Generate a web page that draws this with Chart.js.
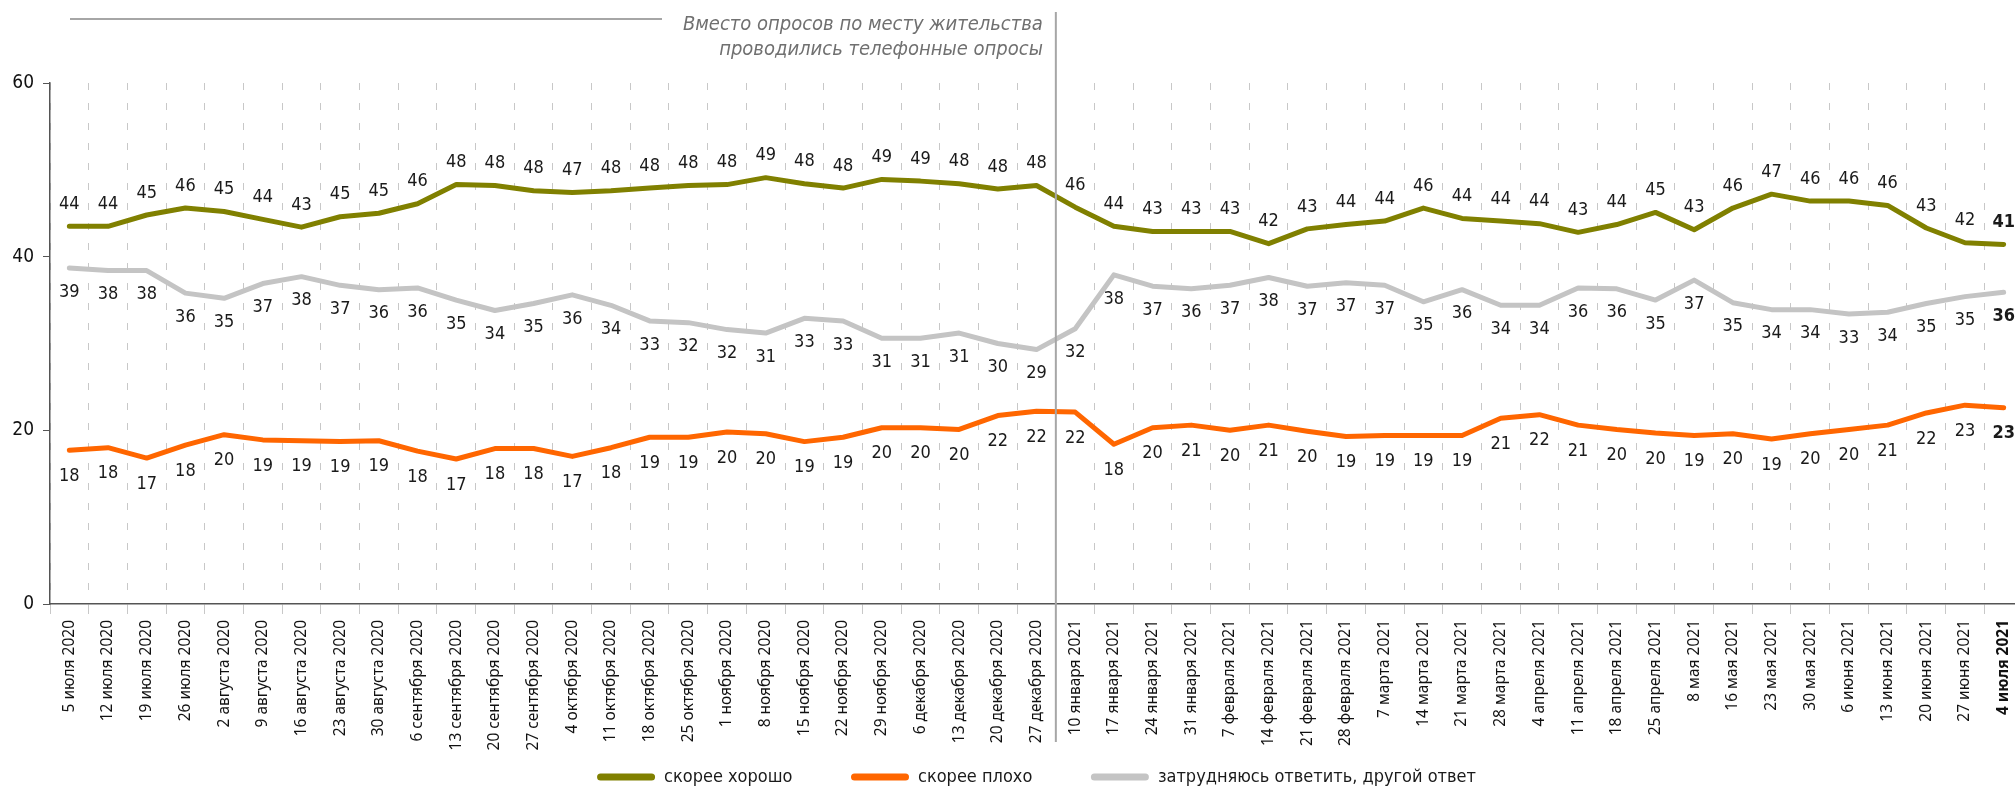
<!DOCTYPE html>
<html>
<head>
<meta charset="utf-8">
<script src="https://cdn.jsdelivr.net/npm/chart.js@4.4.1/dist/chart.umd.min.js"></script>
<style>
  html, body { margin: 0; padding: 0; background: #fff; overflow: hidden; }
  #wrap { width: 2045px; height: 792px; }
</style>
</head>
<body>
<div id="wrap"><canvas id="lineChart" width="2045" height="792"></canvas></div>
<script>
const dates = [
  "5 июля 2020", "12 июля 2020", "19 июля 2020", "26 июля 2020",
  "2 августа 2020", "9 августа 2020", "16 августа 2020", "23 августа 2020", "30 августа 2020",
  "6 сентября 2020", "13 сентября 2020", "20 сентября 2020", "27 сентября 2020",
  "4 октября 2020", "11 октября 2020", "18 октября 2020", "25 октября 2020",
  "1 ноября 2020", "8 ноября 2020", "15 ноября 2020", "22 ноября 2020", "29 ноября 2020",
  "6 декабря 2020", "13 декабря 2020", "20 декабря 2020", "27 декабря 2020",
  "10 января 2021", "17 января 2021", "24 января 2021", "31 января 2021",
  "7 февраля 2021", "14 февраля 2021", "21 февраля 2021", "28 февраля 2021",
  "7 марта 2021", "14 марта 2021", "21 марта 2021", "28 марта 2021",
  "4 апреля 2021", "11 апреля 2021", "18 апреля 2021", "25 апреля 2021",
  "8 мая 2021", "16 мая 2021", "23 мая 2021", "30 мая 2021",
  "6 июня 2021", "13 июня 2021", "20 июня 2021", "27 июня 2021",
  "4 июля 2021"
];

// скорее хорошо
const good = [
  43.5, 43.5, 44.8, 45.6, 45.2, 44.3, 43.4, 44.6, 45.0, 46.1, 48.3, 48.2, 47.6,
  47.4, 47.6, 47.9, 48.2, 48.3, 49.1, 48.4, 47.9, 48.9, 48.7, 48.4, 47.8, 48.2,
  45.7, 43.5, 42.9, 42.9, 42.9, 41.5, 43.2, 43.7, 44.1, 45.6, 44.4, 44.1, 43.8,
  42.8, 43.7, 45.1, 43.1, 45.6, 47.2, 46.4, 46.4, 45.9, 43.3, 41.6, 41.4
];

// скорее плохо
const bad = [
  17.7, 18.0, 16.8, 18.3, 19.5, 18.9, 18.8, 18.7, 18.8, 17.6, 16.7, 17.9, 17.9,
  17.0, 18.0, 19.2, 19.2, 19.8, 19.6, 18.7, 19.2, 20.3, 20.3, 20.1, 21.7, 22.2,
  22.1, 18.4, 20.3, 20.6, 20.0, 20.6, 19.9, 19.3, 19.4, 19.4, 19.4, 21.4, 21.8,
  20.6, 20.1, 19.7, 19.4, 19.6, 19.0, 19.6, 20.1, 20.6, 22.0, 22.9, 22.6
];

// затрудняюсь ответить, другой ответ
const hard = [
  38.7, 38.4, 38.4, 35.8, 35.2, 36.9, 37.7, 36.7, 36.2, 36.4, 35.0, 33.8, 34.6,
  35.6, 34.4, 32.6, 32.4, 31.6, 31.2, 32.9, 32.6, 30.6, 30.6, 31.2, 30.0, 29.3,
  31.7, 37.9, 36.6, 36.3, 36.7, 37.6, 36.6, 37.0, 36.7, 34.8, 36.2, 34.4, 34.4,
  36.4, 36.3, 35.0, 37.3, 34.7, 33.9, 33.9, 33.4, 33.6, 34.6, 35.4, 35.9
];

const yTicks = [0, 20, 40, 60];
const noteLines = ["Вместо опросов по месту жительства", "проводились телефонные опросы"];
const lastPre2021 = 25;

const NARROW = "'Liberation Sans Narrow', 'DejaVu Sans Condensed', sans-serif";

const pointLabels = {
  id: "pointLabels",
  afterDatasetsDraw(chart) {
    const ctx = chart.ctx;
    ctx.save();
    ctx.textAlign = "center";
    ctx.textBaseline = "middle";
    ctx.fillStyle = "#1a1a1a";
    chart.data.datasets.forEach((ds, i) => {
      const meta = chart.getDatasetMeta(i);
      meta.data.forEach((pt, j) => {
        const last = j === ds.data.length - 1;
        ctx.font = (last ? "bold " : "") + "18px " + NARROW;
        ctx.fillText(String(Math.round(ds.data[j])), pt.x, pt.y + ds.labelOffset);
      });
    });
    ctx.restore();
  }
};

const phoneNote = {
  id: "phoneNote",
  afterDraw(chart) {
    const ctx = chart.ctx;
    const x = chart.scales.x;
    const sep = (x.getPixelForValue(lastPre2021) + x.getPixelForValue(lastPre2021 + 1)) / 2;
    ctx.save();
    ctx.strokeStyle = "#a6a6a6";
    ctx.lineWidth = 2;
    ctx.beginPath();
    ctx.moveTo(sep, 12);
    ctx.lineTo(sep, 742);
    ctx.stroke();
    ctx.beginPath();
    ctx.moveTo(70, 19);
    ctx.lineTo(662, 19);
    ctx.stroke();
    ctx.font = "italic 20px " + NARROW;
    ctx.fillStyle = "#707070";
    ctx.textAlign = "right";
    ctx.textBaseline = "middle";
    ctx.fillText(noteLines[0], sep - 13, 25);
    ctx.fillText(noteLines[1], sep - 13, 50);
    ctx.restore();
  }
};

function drawChart() {
  const ctx = document.getElementById("lineChart").getContext("2d");
  new Chart(ctx, {
    type: "line",
    data: {
      labels: dates,
      datasets: [
        { label: "скорее хорошо", data: good, borderColor: "#808000", backgroundColor: "#808000", labelOffset: -22 },
        { label: "скорее плохо", data: bad, borderColor: "#ff6600", backgroundColor: "#ff6600", labelOffset: 26 },
        { label: "затрудняюсь ответить, другой ответ", data: hard, borderColor: "#c4c4c4", backgroundColor: "#c4c4c4", labelOffset: 24 }
      ]
    },
    options: {
      responsive: false,
      animation: false,
      devicePixelRatio: 1,
      layout: { padding: { top: 83, right: 22, left: 0, bottom: -4 } },
      elements: {
        line: { borderWidth: 5, tension: 0, borderCapStyle: "round", borderJoinStyle: "round" },
        point: { radius: 0, hoverRadius: 0 }
      },
      plugins: {
        tooltip: { enabled: false },
        legend: {
          position: "bottom",
          fullSize: false,
          labels: {
            boxWidth: 58,
            boxHeight: 7,
            useBorderRadius: true,
            borderRadius: 3.5,
            padding: 10,
            color: "#1a1a1a",
            font: { family: NARROW, size: 18 },
            generateLabels(chart) {
              const items = Chart.defaults.plugins.legend.labels.generateLabels(chart);
              items.forEach((it, i) => {
                it.lineWidth = 0;
                if (i < items.length - 1) it.text = it.text + "\u2003\u2003\u2003";
              });
              return items;
            }
          }
        }
      },
      scales: {
        x: {
          offset: true,
          afterFit(scale) { scale.height = 154; },
          grid: {
            offset: true,
            color: "#c8c8c8",
            lineWidth: 1,
            tickLength: 10,
            tickColor: "#c8c8c8"
          },
          border: { display: true, color: "#555", width: 1.5, dash: [7, 13] },
          ticks: {
            autoSkip: false,
            maxRotation: 90,
            minRotation: 90,
            padding: 6,
            color: "#111",
            font: (c) => ({ family: "'Noto Sans', 'Open Sans', sans-serif", size: 15.5, weight: c.index === dates.length - 1 ? "bold" : "normal" })
          }
        },
        y: {
          min: 0,
          max: 60,
          afterFit(scale) { scale.width = 50; },
          afterBuildTicks(scale) { scale.ticks = yTicks.map(v => ({ value: v })); },
          grid: { drawOnChartArea: false, drawTicks: true, tickLength: 7, color: "#555" },
          border: { display: true, color: "#555", width: 1.5 },
          ticks: {
            padding: 9,
            color: "#111",
            font: { family: NARROW, size: 19 }
          }
        }
      }
    },
    plugins: [pointLabels, phoneNote]
  });
}

document.addEventListener("DOMContentLoaded", drawChart);
</script>
</body>
</html>
